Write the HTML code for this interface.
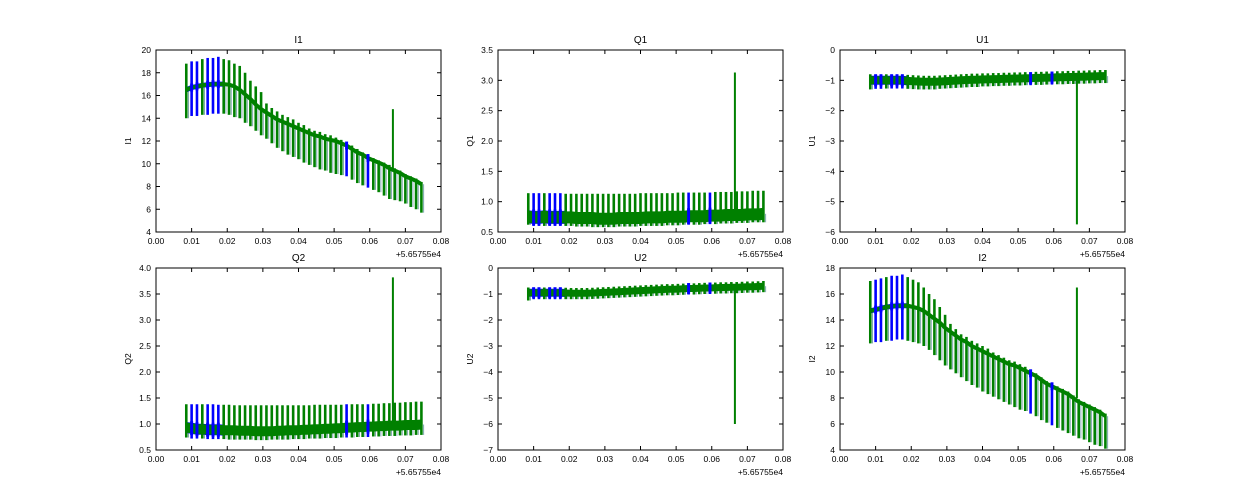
<!DOCTYPE html>
<html><head><meta charset="utf-8">
<style>
html,body{margin:0;padding:0;background:#fff;}
svg{display:block;font-family:"Liberation Sans",sans-serif;}
</style></head>
<body>
<svg id="fig" width="1250" height="500" viewBox="0 0 1250 500"></svg>
<script>
// shared time samples (offset from 5.65755e4)
const times = [0.0085,0.0100,0.0115,0.0130,0.0145,0.0160,0.0175,0.0190,0.0205,0.0220,0.0235,0.0250,0.0265,0.0280,0.0295,0.0310,0.0325,0.0340,0.0355,0.0370,0.0385,0.0400,0.0415,0.0430,0.0445,0.0460,0.0475,0.0490,0.0505,0.0520,0.0535,0.0550,0.0565,0.0580,0.0595,0.0610,0.0625,0.0640,0.0655,0.0670,0.0685,0.0700,0.0715,0.0730,0.0745];
const blueIdx = [1,2,4,5,6,30,34];
const xTicks = [0.00,0.01,0.02,0.03,0.04,0.05,0.06,0.07,0.08];
const xTickLabels = ["0.00","0.01","0.02","0.03","0.04","0.05","0.06","0.07","0.08"];
const outlierT = 0.0665;

const i1Center = [16.5,16.7,16.8,16.9,16.95,17,17,17,16.95,16.8,16.5,16.1,15.7,15.2,14.8,14.5,14.2,13.9,13.7,13.5,13.3,13.1,12.9,12.7,12.5,12.4,12.2,12.1,12.0,11.8,11.6,11.3,11.0,10.8,10.5,10.3,10.1,9.9,9.6,9.4,9.2,8.9,8.7,8.5,8.2];
const i1Hi = [18.8,19,19,19.2,19.3,19.3,19.4,19.2,19.1,18.8,18.6,18,17.3,16.8,16.3,15.3,14.9,14.6,14.3,14.1,13.9,13.6,13.4,13.1,12.9,12.8,12.6,12.5,12.3,12.1,11.8,11.6,11.3,11.0,10.8,10.5,10.3,10.1,9.9,9.6,9.4,9.1,8.9,8.7,8.4];
const i1Lo = [14,14.2,14.2,14.3,14.3,14.4,14.4,14.4,14.3,14.1,14,13.6,13.3,12.9,12.5,12.2,11.8,11.4,11.1,10.8,10.6,10.4,10.1,9.9,9.7,9.5,9.4,9.2,9.1,9,8.9,8.6,8.3,8.1,7.9,7.7,7.5,7.2,6.9,6.8,6.7,6.5,6.2,6,5.7];

const i2Center = [14.7,14.8,14.9,15.0,15.05,15.1,15.1,15.1,15.0,14.9,14.7,14.4,14.1,13.8,13.4,13.1,12.8,12.5,12.3,12.0,11.8,11.6,11.4,11.2,11.0,10.8,10.6,10.5,10.3,10.1,9.9,9.7,9.4,9.1,8.9,8.7,8.5,8.3,8.0,7.7,7.5,7.3,7.1,6.9,6.6];
const i2Hi = [17,17.1,17.2,17.3,17.4,17.4,17.5,17.3,17.1,16.9,16.5,16,15.6,15.0,14.4,13.7,13.3,12.9,12.7,12.4,12.2,12.0,11.8,11.5,11.3,11.1,10.9,10.8,10.6,10.4,10.1,9.9,9.6,9.3,9.1,8.9,8.7,8.5,8.2,7.9,7.7,7.5,7.3,7.1,6.8];
const i2Lo = [12.2,12.3,12.3,12.4,12.4,12.5,12.5,12.4,12.3,12.2,12.0,11.7,11.3,10.9,10.5,10.2,9.9,9.6,9.3,9.0,8.8,8.5,8.3,8.1,7.9,7.7,7.5,7.3,7.1,7.0,6.8,6.6,6.3,6.1,5.9,5.7,5.5,5.3,5.1,4.9,4.8,4.6,4.4,4.3,4.1];

const q1Center = [0.75,0.74,0.74,0.75,0.74,0.74,0.74,0.74,0.74,0.73,0.73,0.73,0.73,0.72,0.72,0.72,0.72,0.73,0.73,0.73,0.73,0.73,0.74,0.74,0.74,0.74,0.75,0.75,0.75,0.75,0.76,0.76,0.76,0.76,0.77,0.77,0.77,0.78,0.78,0.78,0.78,0.79,0.79,0.79,0.80];
const q1Hi = [1.14,1.14,1.14,1.14,1.14,1.14,1.14,1.13,1.13,1.13,1.13,1.13,1.13,1.13,1.13,1.13,1.13,1.13,1.13,1.13,1.13,1.14,1.14,1.14,1.14,1.14,1.14,1.14,1.15,1.15,1.15,1.15,1.15,1.15,1.15,1.16,1.16,1.16,1.16,1.17,1.17,1.17,1.18,1.18,1.18];
const q1Lo = [0.62,0.6,0.6,0.6,0.6,0.6,0.6,0.6,0.6,0.59,0.59,0.59,0.58,0.58,0.58,0.58,0.58,0.59,0.59,0.59,0.59,0.6,0.6,0.6,0.6,0.6,0.61,0.61,0.61,0.62,0.62,0.62,0.62,0.63,0.63,0.63,0.64,0.64,0.64,0.65,0.65,0.65,0.66,0.66,0.66];

const q2Center = [0.93,0.92,0.9,0.9,0.89,0.89,0.89,0.88,0.88,0.88,0.87,0.87,0.87,0.86,0.86,0.86,0.86,0.87,0.87,0.88,0.88,0.88,0.89,0.89,0.9,0.9,0.91,0.91,0.92,0.92,0.93,0.93,0.94,0.94,0.95,0.95,0.96,0.96,0.97,0.97,0.97,0.98,0.98,0.98,0.99];
const q2Hi = [1.38,1.38,1.38,1.38,1.38,1.38,1.37,1.37,1.37,1.36,1.36,1.36,1.36,1.36,1.36,1.36,1.36,1.36,1.36,1.36,1.36,1.36,1.36,1.36,1.37,1.37,1.37,1.37,1.37,1.37,1.38,1.38,1.38,1.38,1.38,1.39,1.39,1.4,1.4,1.41,1.41,1.42,1.42,1.43,1.43];
const q2Lo = [0.74,0.72,0.72,0.72,0.71,0.71,0.71,0.71,0.7,0.7,0.7,0.7,0.7,0.69,0.69,0.69,0.7,0.7,0.7,0.7,0.71,0.71,0.71,0.72,0.72,0.72,0.73,0.73,0.73,0.74,0.74,0.74,0.75,0.75,0.75,0.76,0.76,0.77,0.77,0.77,0.78,0.78,0.78,0.79,0.79];

const u1Center = [-1.0,-1.0,-1.0,-1.0,-1.0,-1.0,-1.0,-1.02,-1.03,-1.04,-1.05,-1.05,-1.05,-1.04,-1.03,-1.02,-1.01,-1.0,-0.99,-0.98,-0.98,-0.97,-0.97,-0.96,-0.96,-0.95,-0.95,-0.94,-0.94,-0.93,-0.93,-0.92,-0.92,-0.91,-0.91,-0.9,-0.9,-0.89,-0.89,-0.88,-0.88,-0.87,-0.87,-0.86,-0.86];
const u1Hi = [-0.8,-0.8,-0.8,-0.8,-0.8,-0.8,-0.8,-0.82,-0.83,-0.84,-0.85,-0.85,-0.85,-0.84,-0.83,-0.82,-0.81,-0.8,-0.79,-0.78,-0.78,-0.77,-0.77,-0.76,-0.76,-0.75,-0.75,-0.74,-0.74,-0.73,-0.73,-0.72,-0.72,-0.71,-0.71,-0.7,-0.7,-0.69,-0.69,-0.68,-0.68,-0.67,-0.67,-0.66,-0.66];
const u1Lo = [-1.3,-1.28,-1.28,-1.27,-1.27,-1.27,-1.27,-1.28,-1.29,-1.3,-1.3,-1.3,-1.3,-1.28,-1.27,-1.26,-1.25,-1.24,-1.23,-1.22,-1.22,-1.2,-1.2,-1.19,-1.19,-1.18,-1.18,-1.17,-1.17,-1.16,-1.16,-1.15,-1.15,-1.14,-1.14,-1.13,-1.13,-1.12,-1.12,-1.11,-1.11,-1.1,-1.1,-1.09,-1.09];

const u2Center = [-0.95,-0.95,-0.95,-0.95,-0.95,-0.95,-0.95,-0.96,-0.97,-0.97,-0.97,-0.97,-0.96,-0.95,-0.94,-0.93,-0.92,-0.91,-0.9,-0.89,-0.88,-0.87,-0.86,-0.85,-0.84,-0.83,-0.82,-0.82,-0.81,-0.8,-0.79,-0.79,-0.78,-0.77,-0.77,-0.76,-0.75,-0.75,-0.74,-0.74,-0.73,-0.72,-0.72,-0.71,-0.7];
const u2Hi = [-0.75,-0.75,-0.75,-0.75,-0.75,-0.75,-0.75,-0.76,-0.77,-0.77,-0.77,-0.77,-0.76,-0.75,-0.74,-0.73,-0.72,-0.71,-0.7,-0.69,-0.68,-0.67,-0.66,-0.65,-0.64,-0.63,-0.62,-0.62,-0.61,-0.6,-0.59,-0.59,-0.58,-0.57,-0.57,-0.56,-0.55,-0.55,-0.54,-0.54,-0.53,-0.52,-0.52,-0.51,-0.5];
const u2Lo = [-1.25,-1.2,-1.2,-1.2,-1.2,-1.2,-1.2,-1.2,-1.2,-1.2,-1.2,-1.2,-1.19,-1.18,-1.17,-1.16,-1.15,-1.14,-1.13,-1.12,-1.11,-1.1,-1.09,-1.08,-1.07,-1.06,-1.05,-1.05,-1.04,-1.03,-1.02,-1.02,-1.01,-1.0,-1.0,-0.99,-0.98,-0.98,-0.97,-0.97,-0.96,-0.95,-0.95,-0.94,-0.93];

const panels = [
  {key:"i1", title:"I1", center:i1Center, hi:i1Hi, lo:i1Lo, outBase:9.5, outTip:14.8, yMin:4, yMax:20, yTicks:[4,6,8,10,12,14,16,18,20], yLabels:["4","6","8","10","12","14","16","18","20"]},
  {key:"q1", title:"Q1", center:q1Center, hi:q1Hi, lo:q1Lo, outBase:0.8, outTip:3.13, yMin:0.5, yMax:3.5, yTicks:[0.5,1,1.5,2,2.5,3,3.5], yLabels:["0.5","1.0","1.5","2.0","2.5","3.0","3.5"]},
  {key:"u1", title:"U1", center:u1Center, hi:u1Hi, lo:u1Lo, outBase:-0.9, outTip:-5.75, yMin:-6, yMax:0, yTicks:[-6,-5,-4,-3,-2,-1,0], yLabels:["\u22126","\u22125","\u22124","\u22123","\u22122","\u22121","0"]},
  {key:"q2", title:"Q2", center:q2Center, hi:q2Hi, lo:q2Lo, outBase:1.0, outTip:3.82, yMin:0.5, yMax:4, yTicks:[0.5,1,1.5,2,2.5,3,3.5,4], yLabels:["0.5","1.0","1.5","2.0","2.5","3.0","3.5","4.0"]},
  {key:"u2", title:"U2", center:u2Center, hi:u2Hi, lo:u2Lo, outBase:-0.75, outTip:-6.0, yMin:-7, yMax:0, yTicks:[-7,-6,-5,-4,-3,-2,-1,0], yLabels:["\u22127","\u22126","\u22125","\u22124","\u22123","\u22122","\u22121","0"]},
  {key:"i2", title:"I2", center:i2Center, hi:i2Hi, lo:i2Lo, outBase:8.0, outTip:16.5, yMin:4, yMax:18, yTicks:[4,6,8,10,12,14,16,18], yLabels:["4","6","8","10","12","14","16","18"]}
];
const bandPx = {i1:4, q1:12, u1:8, q2:10, u2:7, i2:4};
const colX = [156, 498, 840], rowY = [50, 268], W = 285, H = 182;

const NS = "http://www.w3.org/2000/svg";
const svg = document.getElementById("fig");
function mk(tag, attrs, parent){
  const e = document.createElementNS(NS, tag);
  for (const k in attrs) e.setAttribute(k, attrs[k]);
  (parent||svg).appendChild(e);
  return e;
}

panels.forEach((p, idx) => {
  const x0 = colX[idx % 3], y0 = rowY[Math.floor(idx / 3)];
  const g = mk("g", {});
  
  
  const xs = v => x0 + (v - 0) / 0.08 * W;
  const ys = v => y0 + H - (v - p.yMin) / (p.yMax - p.yMin) * H;

  const clipId = "clip" + idx;
  const cp = mk("clipPath", {id: clipId}, g);
  mk("rect", {x:x0, y:y0, width:W, height:H}, cp);
  const plot = mk("g", {"clip-path":"url(#"+clipId+")"}, g);
  
  

  // base line (blue early, green overall)
  const ptsAll = times.map((t,i)=> xs(t).toFixed(1)+","+ys(p.center[i]).toFixed(1)).join(" ");
  const blueLine = mk("polyline", {points: times.slice(0,8).map((t,i)=> xs(t).toFixed(1)+","+ys(p.center[i]).toFixed(1)).join(" "), fill:"none", stroke:"#0000ff", "stroke-width":bandPx[p.key]+1}, plot);
  
  

  // spikes
  times.forEach((t, i) => {
    const isBlue = blueIdx.indexOf(i) >= 0;
    const ln = mk("line", {x1:xs(t), x2:xs(t), y1:ys(p.hi[i]), y2:ys(p.lo[i]), stroke: isBlue ? "#0000ff" : "#008000", "stroke-width": 2.6}, plot);
    
    
    if (!isBlue) {
      const sh = mk("line", {x1:xs(t)+2.2, x2:xs(t)+2.2, y1:ys(p.center[i]), y2:ys(p.lo[i]), stroke:"#2a6f7a", "stroke-width":1, opacity:0.6}, plot);
      
      
    }
  });

  const line = mk("polyline", {points: ptsAll, fill:"none", stroke:"#008000", "stroke-width": bandPx[p.key], "stroke-linejoin":"round"}, plot);
  
  
  blueIdx.forEach(i => {
    const b = mk("line", {x1:xs(times[i]), x2:xs(times[i]), y1:ys(p.center[i])-bandPx[p.key]/2-2, y2:ys(p.center[i])+bandPx[p.key]/2+2, stroke:"#0000ff", "stroke-width":3}, plot);
    
    
  });

  const out = mk("line", {x1:xs(outlierT), x2:xs(outlierT), y1:ys(p.outBase), y2:ys(p.outTip), stroke:"#008000", "stroke-width":2}, plot);
  
  

  // frame
  const fr = mk("rect", {x:x0, y:y0, width:W, height:H, fill:"none", stroke:"#000", "stroke-width":1}, g);
  
  

  // x ticks
  xTicks.forEach((v, i) => {
    const X = xs(v);
    mk("line", {x1:X, x2:X, y1:y0+H, y2:y0+H-4, stroke:"#000", "stroke-width":1}, g);
    mk("line", {x1:X, x2:X, y1:y0, y2:y0+4, stroke:"#000", "stroke-width":1}, g);
    const tx = mk("text", {x:X, y:y0+H+12, "font-size":8.5, "text-anchor":"middle", fill:"#000"}, g);
    tx.textContent = xTickLabels[i];
    
    
  });
  const off = mk("text", {x:x0+W, y:y0+H+25, "font-size":8.5, "text-anchor":"end", fill:"#000"}, g);
  off.textContent = "+5.65755e4";
  
  

  // y ticks
  p.yTicks.forEach((v, i) => {
    const Y = ys(v);
    mk("line", {x1:x0, x2:x0+4, y1:Y, y2:Y, stroke:"#000", "stroke-width":1}, g);
    mk("line", {x1:x0+W, x2:x0+W-4, y1:Y, y2:Y, stroke:"#000", "stroke-width":1}, g);
    const ty = mk("text", {x:x0-5, y:Y+3, "font-size":8.5, "text-anchor":"end", fill:"#000"}, g);
    ty.textContent = p.yLabels[i];
    
    
  });

  const tt = mk("text", {x:x0+W/2, y:y0-7, "font-size":10, "text-anchor":"middle", fill:"#000"}, g);
  tt.textContent = p.title;
  
  

  const yl = mk("text", {x:0, y:0, "font-size":8.5, "text-anchor":"middle", fill:"#000", transform:"translate("+(x0-25)+","+(y0+H/2)+") rotate(-90)"}, g);
  yl.textContent = p.title;
  
  
});
</script>
</body></html>
